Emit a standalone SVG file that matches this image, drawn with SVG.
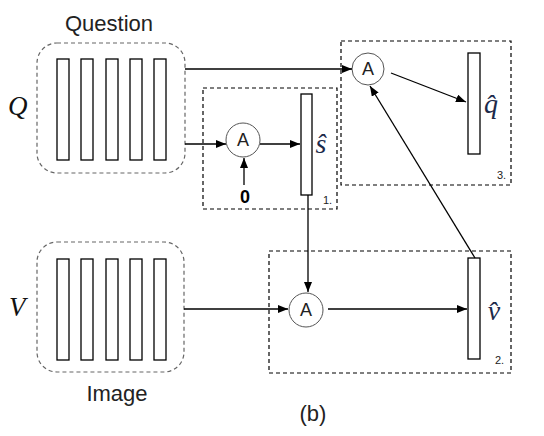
<svg xmlns="http://www.w3.org/2000/svg" width="544" height="436" viewBox="0 0 544 436">
<defs>
<marker id="arr" markerUnits="userSpaceOnUse" markerWidth="11" markerHeight="9" refX="10" refY="4" orient="auto">
<path d="M0,0 L10,4 L0,8 Z" fill="#000"/>
</marker>
<style>
.lbl{font-family:"Liberation Sans",Arial,sans-serif;font-size:22px;fill:#222}
.math{font-family:"Liberation Serif","Times New Roman",serif;font-style:italic;fill:#111}
.hat{font-family:"Liberation Serif","Times New Roman",serif;font-style:italic;font-size:28px;fill:#1c2a4a}
.num{font-family:"Liberation Sans",Arial,sans-serif;font-size:11px;fill:#222}
.grp{fill:none;stroke:#666;stroke-width:1.2;stroke-dasharray:4 3}
.box{fill:none;stroke:#000;stroke-width:1.2;stroke-dasharray:4 3}
.bar{fill:#fff;stroke:#000;stroke-width:1.3}
.circ{fill:#fff;stroke:#555;stroke-width:1}
.atxt{font-family:"Liberation Sans",Arial,sans-serif;font-size:18px;fill:#222;text-anchor:middle}
.conn line{stroke:#000;stroke-width:1.3;marker-end:url(#arr)}
</style>
</defs>
<rect width="544" height="436" fill="#fff"/>

<g id="question">
<text class="lbl" x="109" y="31" text-anchor="middle">Question</text>
<text class="math" x="8" y="115" font-size="27">Q</text>
<rect class="grp" x="37" y="43" width="148" height="130" rx="20"/>
<rect class="bar" x="57" y="59" width="12" height="101"/>
<rect class="bar" x="81" y="59" width="12" height="101"/>
<rect class="bar" x="106" y="59" width="12" height="101"/>
<rect class="bar" x="130" y="59" width="12" height="101"/>
<rect class="bar" x="154" y="59" width="12" height="101"/>
</g>

<g id="image">
<text class="lbl" x="117" y="401" text-anchor="middle">Image</text>
<text class="math" x="9" y="316" font-size="27">V</text>
<rect class="grp" x="37" y="242" width="147" height="130" rx="20"/>
<rect class="bar" x="57" y="259" width="12" height="101"/>
<rect class="bar" x="81" y="259" width="12" height="101"/>
<rect class="bar" x="106" y="259" width="12" height="101"/>
<rect class="bar" x="130" y="259" width="12" height="101"/>
<rect class="bar" x="154" y="259" width="12" height="101"/>
</g>

<g id="step1">
<rect class="box" x="203" y="88" width="134" height="121"/>
<circle class="circ" cx="243" cy="140" r="17"/>
<text class="atxt" x="243" y="146">A</text>
<text x="245" y="203" font-family="'Liberation Sans',Arial,sans-serif" font-size="18" font-weight="bold" fill="#000" text-anchor="middle">0</text>
<rect class="bar" x="301" y="94" width="11" height="101"/>
<text class="hat" x="321" y="153" text-anchor="middle">ŝ</text>
<text class="num" x="323" y="204">1.</text>
</g>

<g id="step2">
<rect class="box" x="269" y="251" width="242" height="122"/>
<circle class="circ" cx="306" cy="310" r="17"/>
<text class="atxt" x="306" y="316">A</text>
<rect class="bar" x="468" y="258" width="12" height="101"/>
<text class="hat" x="494" y="320" text-anchor="middle">v̂</text>
<text class="num" x="495" y="364">2.</text>
</g>

<g id="step3">
<rect class="box" x="341" y="41" width="170" height="144"/>
<circle class="circ" cx="368" cy="69" r="16"/>
<text class="atxt" x="368" y="75">A</text>
<rect class="bar" x="468" y="53" width="12" height="101"/>
<text class="hat" x="491" y="113" text-anchor="middle">q̂</text>
<text class="num" x="497" y="179">3.</text>
</g>

<g id="caption">
<text class="lbl" x="313" y="421" text-anchor="middle">(b)</text>
</g>

<g id="connectors" class="conn">
<line x1="185" y1="69" x2="352" y2="69"/>
<line x1="185" y1="144" x2="226" y2="144"/>
<line x1="260" y1="144" x2="300" y2="144"/>
<line x1="244" y1="185" x2="244" y2="158"/>
<line x1="308" y1="195" x2="308" y2="292"/>
<line x1="184" y1="309" x2="288" y2="309"/>
<line x1="328" y1="309" x2="467" y2="309"/>
<line x1="475" y1="258" x2="370" y2="86"/>
<line x1="391" y1="73" x2="466" y2="102"/>
</g>
</svg>
